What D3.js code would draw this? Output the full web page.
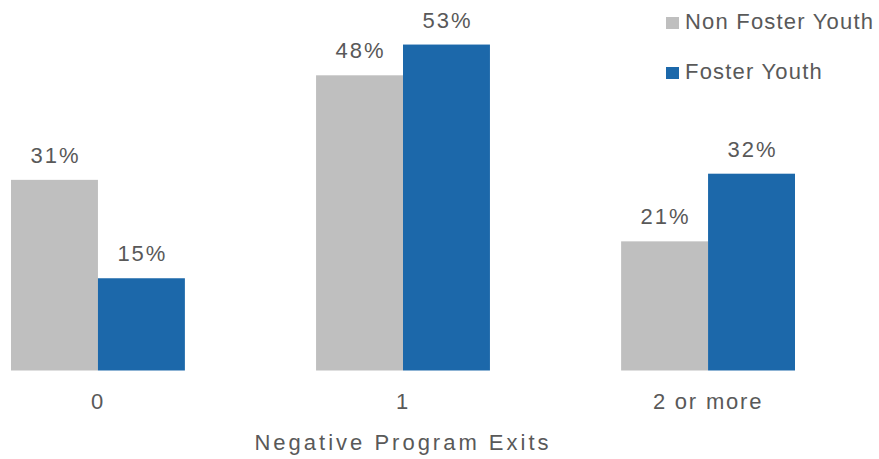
<!DOCTYPE html>
<html>
<head>
<meta charset="utf-8">
<script src="https://cdn.jsdelivr.net/npm/d3@7"></script>
<style>
  body { margin: 0; background: #fff; }
  text { font-family: "Liberation Sans", Arial, sans-serif; fill: #595959; }
</style>
</head>
<body>
<div class="chart"></div>
<script>
var svgWidth = 879;
var svgHeight = 459;

// data
var categories = ["0", "1", "2 or more"];
var seriesNames = ["Non Foster Youth", "Foster Youth"];
var nonFoster = [31, 48, 21];
var foster = [15, 53, 32];
var colors = ["#BFBFBF", "#1C68AA"];

var svg = d3.select(".chart")
    .append("svg")
    .attr("width", svgWidth)
    .attr("height", svgHeight);

var rows = categories.map(function(c, i) {
    return { cat: c, values: [
        { name: seriesNames[0], value: nonFoster[i] },
        { name: seriesNames[1], value: foster[i] }
    ] };
});

// scales
var x0 = d3.scaleBand()
    .domain(categories)
    .range([11, 795])
    .paddingInner(0.43)
    .paddingOuter(0);

var x1 = d3.scaleBand()
    .domain(seriesNames)
    .range([0, x0.bandwidth()]);

var y = d3.scaleLinear()
    .domain([0, 60])
    .range([370.5, 1.5]);

var color = d3.scaleOrdinal().domain(seriesNames).range(colors);

// bars
var groups = svg.selectAll(".group")
    .data(rows)
    .enter()
    .append("g")
    .attr("transform", d => `translate(${x0(d.cat)},0)`);

groups.selectAll("rect")
    .data(d => d.values)
    .enter()
    .append("rect")
    .attr("x", d => x1(d.name))
    .attr("y", d => y(d.value))
    .attr("width", x1.bandwidth())
    .attr("height", d => y(0) - y(d.value))
    .attr("fill", d => color(d.name));

groups.selectAll(".lbl")
    .data(d => d.values)
    .enter()
    .append("text")
    .attr("x", d => x1(d.name) + x1.bandwidth() / 2 + 1)
    .attr("y", d => y(d.value) - 17)
    .attr("text-anchor", "middle")
    .style("font-size", "22px")
    .style("letter-spacing", "2px")
    .text(d => d.value + "%");

// category axis labels
var bottomAxis = d3.axisBottom(x0).tickSize(0).tickPadding(23);
var axisG = svg.append("g")
    .attr("transform", `translate(0, ${y(0)})`)
    .call(bottomAxis);
axisG.select(".domain").remove();
axisG.selectAll("text")
    .style("font-size", "22px")
    .style("letter-spacing", "1.8px")
    .attr("fill", "#595959");

// axis title
svg.append("text")
    .attr("x", 403)
    .attr("y", 450)
    .attr("text-anchor", "middle")
    .style("font-size", "22px")
    .style("letter-spacing", "3px")
    .text("Negative Program Exits");

// legend
var legend = svg.selectAll(".legend")
    .data(seriesNames)
    .enter()
    .append("g")
    .attr("transform", (d, i) => `translate(666, ${17 + i * 50})`);

legend.append("rect")
    .attr("width", 13)
    .attr("height", 12)
    .attr("fill", d => color(d));

legend.append("text")
    .attr("x", 19)
    .attr("y", 12)
    .style("font-size", "22px")
    .style("letter-spacing", "1.2px")
    .text(d => d);
</script>
</body>
</html>
